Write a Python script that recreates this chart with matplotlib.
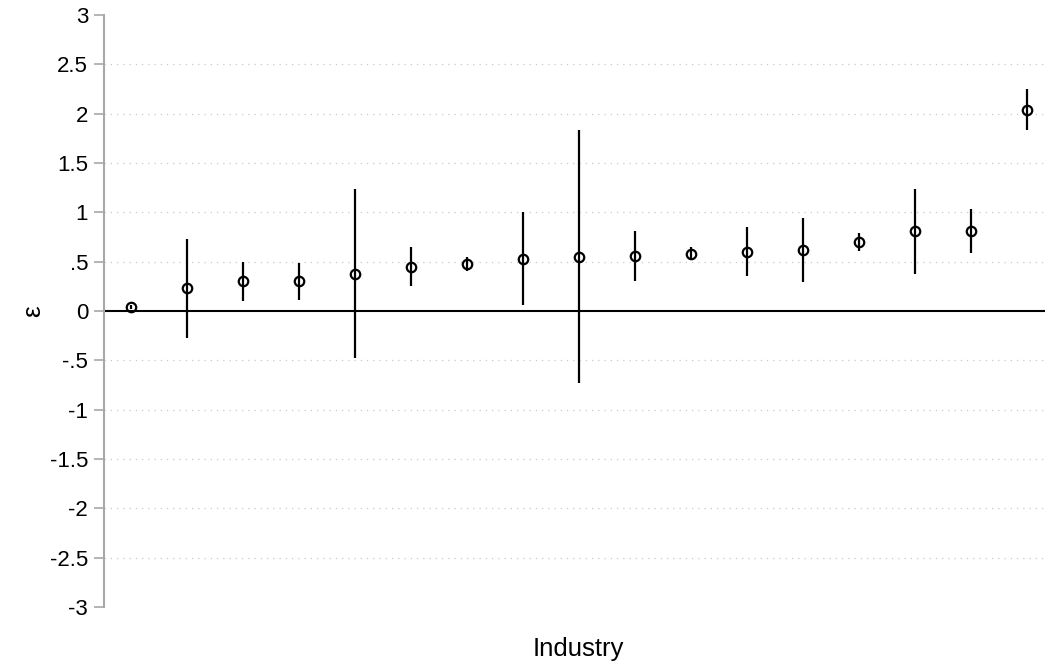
import numpy as np
import matplotlib
matplotlib.use('Agg')
import matplotlib.pyplot as plt

plt.rcParams['font.family'] = ['Liberation Sans', 'DejaVu Sans']

# industry estimates (sorted) and half-width of the confidence interval
industry = np.arange(1, 18)
eps = [0.04, 0.23, 0.30, 0.30, 0.38, 0.45, 0.48, 0.53, 0.55,
       0.56, 0.58, 0.60, 0.615, 0.70, 0.81, 0.81, 2.04]
err = [0.02, 0.50, 0.20, 0.185, 0.86, 0.20, 0.07, 0.47, 1.28,
       0.255, 0.065, 0.25, 0.325, 0.09, 0.43, 0.22, 0.21]
yticks = np.arange(-3, 3.01, 0.5)

def fmt(v):
    s = ('%g' % v)
    return s.replace('0.', '.') if abs(v) < 1 and v != 0 else s

fig = plt.figure(figsize=(10.45, 6.66), dpi=100)
ax = fig.add_axes([104/1045, 1 - 607/666, 941/1045, 592/666])

for yv in yticks:
    if yv != 0 and abs(yv) < 3:
        ax.axhline(yv, color='#c8c8c8', lw=0.9, ls=(0, (1, 4)), zorder=0)
ax.axhline(0, color='black', lw=1.5, zorder=1)

ax.errorbar(industry, eps, yerr=err, fmt='o', ms=6.8, mfc='none', mec='black',
            mew=1.6, ecolor='black', elinewidth=1.6, capsize=0, zorder=3)

ax.set_xlim(0.518, 17.32)
ax.set_ylim(-3, 3)
ax.set_yticks(yticks)
ax.set_yticklabels([fmt(v) for v in yticks])
ax.set_xticks([])
for s in ['top', 'right', 'bottom']:
    ax.spines[s].set_visible(False)
ax.spines['left'].set_color('#a8a8a8')
ax.spines['left'].set_linewidth(1.5)
ax.tick_params(axis='y', length=7.5, color='#a8a8a8', width=1.2, labelsize=16, pad=4)

fig.text(33/1045, 1 - 311/666, 'ε', fontsize=19, rotation=90, ha='center', va='center')
fig.text(578/1045, 1 - 649/666, 'Industry', fontsize=18.5, ha='center', va='center')

fig.savefig('out.png', dpi=100)
